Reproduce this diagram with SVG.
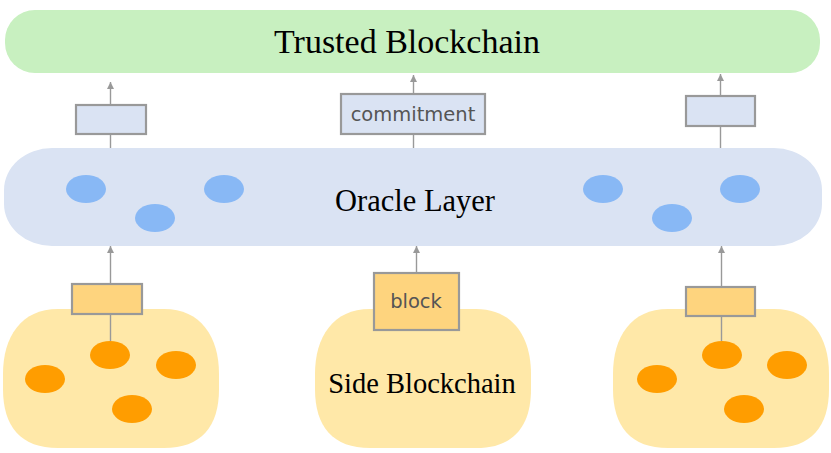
<svg xmlns="http://www.w3.org/2000/svg" width="831" height="453" viewBox="0 0 831 453">
<style>
.serif{font-family:"Liberation Serif","Times New Roman",serif;fill:#000;text-anchor:middle}
.sans{font-family:"DejaVu Sans",sans-serif;fill:#555;text-anchor:middle;font-size:19.5px}
.bbox{fill:#dae3f3;stroke:#999;stroke-width:2.2}
.ybox{fill:#fed47e;stroke:#999;stroke-width:2.2}
.blue{fill:#88b8f5}
.orange{fill:#ff9d00}
.blob{fill:#ffe8a8}
.conn{stroke:#999;stroke-width:1.4;fill:none}
</style>
<defs>
<marker id="ah" markerWidth="7" markerHeight="9" refX="7" refY="3.5" orient="auto" markerUnits="userSpaceOnUse">
<path d="M0,0 L7,3.5 L0,7 Z" fill="#999"/>
</marker>
<path id="blobshape" d="M55,0 L161,0 C198,0 216,28 216,65 L216,80 C216,118 198,139 161,139 L55,139 C18,139 0,118 0,80 L0,65 C0,28 18,0 55,0 Z"/>
</defs>

<g id="trusted">
<rect x="5" y="10" width="815" height="63" rx="30" ry="30" fill="#c8f0c0"/>
<text class="serif" x="407" y="53" font-size="34">Trusted Blockchain</text>
</g>

<g id="side-left">
<use href="#blobshape" x="3" y="309" class="blob"/>
<ellipse class="orange" cx="110" cy="355" rx="20" ry="14"/>
<ellipse class="orange" cx="176" cy="365" rx="20" ry="14"/>
<ellipse class="orange" cx="45" cy="379" rx="20" ry="14"/>
<ellipse class="orange" cx="132" cy="409" rx="20" ry="14"/>
</g>
<g id="side-center">
<use href="#blobshape" x="315" y="309" class="blob"/>
<text class="serif" x="422" y="393" font-size="28.5">Side Blockchain</text>
</g>
<g id="side-right">
<use href="#blobshape" x="613" y="309" class="blob"/>
<ellipse class="orange" cx="722" cy="355" rx="20" ry="14"/>
<ellipse class="orange" cx="787" cy="365" rx="20" ry="14"/>
<ellipse class="orange" cx="657" cy="379" rx="20" ry="14"/>
<ellipse class="orange" cx="744" cy="409" rx="20" ry="14"/>
</g>

<g id="oracle">
<rect x="4" y="148" width="818" height="98" rx="48" ry="42" fill="#dae3f3"/>
<ellipse class="blue" cx="86" cy="189" rx="20" ry="14"/>
<ellipse class="blue" cx="155" cy="218" rx="20" ry="14"/>
<ellipse class="blue" cx="224" cy="189" rx="20" ry="14"/>
<ellipse class="blue" cx="603" cy="189" rx="20" ry="14"/>
<ellipse class="blue" cx="672" cy="218" rx="20" ry="14"/>
<ellipse class="blue" cx="740" cy="189" rx="20" ry="14"/>
<text class="serif" x="415" y="211" font-size="30.5">Oracle Layer</text>
</g>

<g id="connectors">
<line class="conn" x1="110.5" y1="105" x2="110.5" y2="82" marker-end="url(#ah)"/>
<line class="conn" x1="413.5" y1="94" x2="413.5" y2="75" marker-end="url(#ah)"/>
<line class="conn" x1="720.5" y1="96" x2="720.5" y2="74" marker-end="url(#ah)"/>
<line class="conn" x1="110.5" y1="135" x2="110.5" y2="148"/>
<line class="conn" x1="413.5" y1="135" x2="413.5" y2="148"/>
<line class="conn" x1="720.5" y1="126" x2="720.5" y2="148"/>
<line class="conn" x1="110.5" y1="284" x2="110.5" y2="246" marker-end="url(#ah)"/>
<line class="conn" x1="416.5" y1="273" x2="416.5" y2="246" marker-end="url(#ah)"/>
<line class="conn" x1="721.5" y1="287" x2="721.5" y2="246" marker-end="url(#ah)"/>
<line class="conn" x1="110.5" y1="314" x2="110.5" y2="341"/>
<line class="conn" x1="721.5" y1="316" x2="721.5" y2="341"/>
</g>

<g id="tx-left"><rect class="bbox" x="76" y="105" width="70" height="29"/></g>
<g id="tx-commitment"><rect class="bbox" x="341" y="94" width="144" height="40"/><text class="sans" x="413" y="121">commitment</text></g>
<g id="tx-right"><rect class="bbox" x="686" y="96" width="69" height="30"/></g>

<g id="blk-left"><rect class="ybox" x="72" y="284" width="70" height="30"/></g>
<g id="blk-center"><rect class="ybox" x="374" y="273" width="85" height="57"/><text class="sans" x="416" y="308">block</text></g>
<g id="blk-right"><rect class="ybox" x="686" y="287" width="69" height="29"/></g>
</svg>
